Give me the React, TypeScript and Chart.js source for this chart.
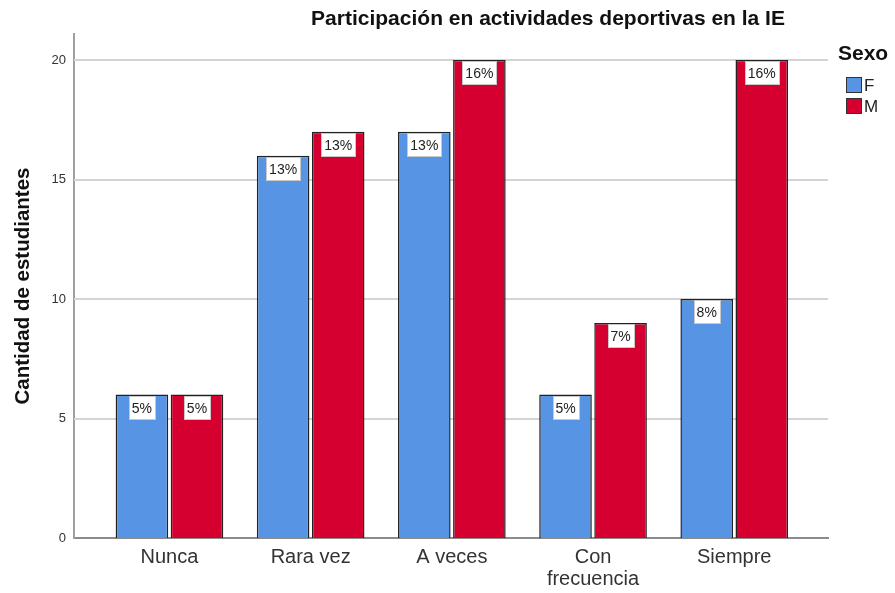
import React, { useEffect, useRef } from "react";
import { Chart, registerables } from "chart.js";

Chart.register(...registerables);

const title = "Participación en actividades deportivas en la IE";
const yAxisTitle = "Cantidad de estudiantes";
const legendTitle = "Sexo";
const categories: string[][] = [["Nunca"], ["Rara vez"], ["A veces"], ["Con", "frecuencia"], ["Siempre"]];
const seriesNames = ["F", "M"];
const femaleValues = [6, 16, 17, 6, 10];
const maleValues = [6, 17, 20, 9, 20];
const femaleLabels = ["5%", "13%", "13%", "5%", "8%"];
const maleLabels = ["5%", "13%", "16%", "7%", "16%"];
const yTicks = [0, 5, 10, 15, 20];

const BLUE = "#5795E4";
const RED = "#D5002F";
const FONT = "'Liberation Sans', Arial, sans-serif";

export default function App() {
  const ref = useRef<HTMLCanvasElement | null>(null);
  useEffect(() => {
    if (!ref.current) return;
    const labelSets = [femaleLabels, maleLabels];
    const overlay = {
      id: "overlay",
      beforeDatasetsDraw(chart: any) {
        const ctx = chart.ctx;
        const y = chart.scales.y;
        const a = chart.chartArea;
        ctx.save();
        ctx.strokeStyle = "#d4d4d4";
        ctx.lineWidth = 2;
        yTicks.forEach((t) => {
          if (t === 0) return;
          const py = Math.round(y.getPixelForValue(t));
          ctx.beginPath();
          ctx.moveTo(a.left, py);
          ctx.lineTo(a.right, py);
          ctx.stroke();
        });
        ctx.restore();
      },
      afterDatasetsDraw(chart: any) {
        const ctx = chart.ctx;
        ctx.save();
        ctx.font = `14px ${FONT}`;
        chart.data.datasets.forEach((ds: any, di: number) => {
          const meta = chart.getDatasetMeta(di);
          meta.data.forEach((bar: any, i: number) => {
            const txt = labelSets[di][i];
            const w = Math.round(ctx.measureText(txt).width + 6);
            const h = 23;
            const x = Math.round(bar.x - w / 2) + 0.5;
            const top = Math.round(bar.y) + 1.5;
            ctx.fillStyle = "#ffffff";
            ctx.fillRect(x, top, w, h);
            ctx.strokeStyle = "#c8c8c8";
            ctx.lineWidth = 1;
            ctx.strokeRect(x, top, w, h);
            ctx.fillStyle = "#222";
            ctx.textAlign = "center";
            ctx.textBaseline = "middle";
            ctx.fillText(txt, bar.x, top + h / 2 + 1);
          });
        });
        // title
        ctx.font = `bold 21px ${FONT}`;
        ctx.fillStyle = "#111";
        ctx.textAlign = "center";
        ctx.textBaseline = "middle";
        ctx.fillText(title, 548, 19);
        // legend
        ctx.textAlign = "left";
        ctx.font = `bold 21px ${FONT}`;
        ctx.fillText(legendTitle, 838, 54);
        ctx.font = `17px ${FONT}`;
        const colors = [BLUE, RED];
        seriesNames.forEach((n, i) => {
          const ly = 77 + i * 21;
          ctx.fillStyle = colors[i];
          ctx.fillRect(846, ly, 15, 15);
          ctx.strokeStyle = "#333";
          ctx.lineWidth = 1;
          ctx.strokeRect(846.5, ly + 0.5, 15, 15);
          ctx.fillStyle = "#222";
          ctx.textBaseline = "middle";
          ctx.fillText(n, 864, ly + 9);
        });
        ctx.restore();
      },
    };

    const chart = new Chart(ref.current, {
      type: "bar",
      data: {
        datasets: [
          {
            label: seriesNames[0],
            data: femaleValues.map((v, i) => ({ x: i, y: v })),
            backgroundColor: BLUE,
            borderColor: "#222",
            borderWidth: 1.5,
            categoryPercentage: 0.78,
            barPercentage: 0.955,
          },
          {
            label: seriesNames[1],
            data: maleValues.map((v, i) => ({ x: i, y: v })),
            backgroundColor: RED,
            borderColor: "#222",
            borderWidth: 1.5,
            categoryPercentage: 0.78,
            barPercentage: 0.955,
          },
        ],
      },
      options: {
        animation: false,
        responsive: false,
        layout: { padding: { left: 0, right: 67, top: 34, bottom: 0 } },
        plugins: {
          legend: { display: false },
          tooltip: { enabled: false },
          title: { display: false },
        },
        scales: {
          x: {
            type: "linear",
            offset: false,
            min: -0.676,
            max: 4.664,
            grid: { display: false, drawTicks: false, offset: false },
            border: { display: true, color: "#8c8c8c", width: 2 },
            afterBuildTicks: (s: any) => {
              s.ticks = categories.map((_, i) => ({ value: i }));
            },
            afterFit: (s: any) => {
              s.height = 55;
            },
            ticks: {
              autoSkip: false,
              maxRotation: 0,
              padding: 8,
              color: "#333",
              font: { family: FONT, size: 20, lineHeight: 1.1 },
              callback: (v: any) => categories[v as number] ?? "",
            },
          },
          y: {
            min: 0,
            max: 21.09,
            grid: { display: false, drawTicks: false },
            border: { display: true, color: "#a0a0a0", width: 2 },
            afterFit: (s: any) => {
              s.width = 74;
            },
            ticks: {
              stepSize: 5,
              includeBounds: false,
              padding: 8,
              color: "#333",
              font: { family: FONT, size: 13 },
            },
            title: {
              display: true,
              text: yAxisTitle,
              color: "#111",
              font: { family: FONT, size: 20.5, weight: "bold" },
              padding: { top: 11, bottom: 0 },
            },
          },
        },
      },
      plugins: [overlay],
    } as any);
    return () => chart.destroy();
  }, []);

  return (
    <div style={{ position: "absolute", left: 0, top: 0, width: 895, height: 593, background: "#fff" }}>
      <canvas ref={ref} width={895} height={593} style={{ width: 895, height: 593 }} />
    </div>
  );
}
